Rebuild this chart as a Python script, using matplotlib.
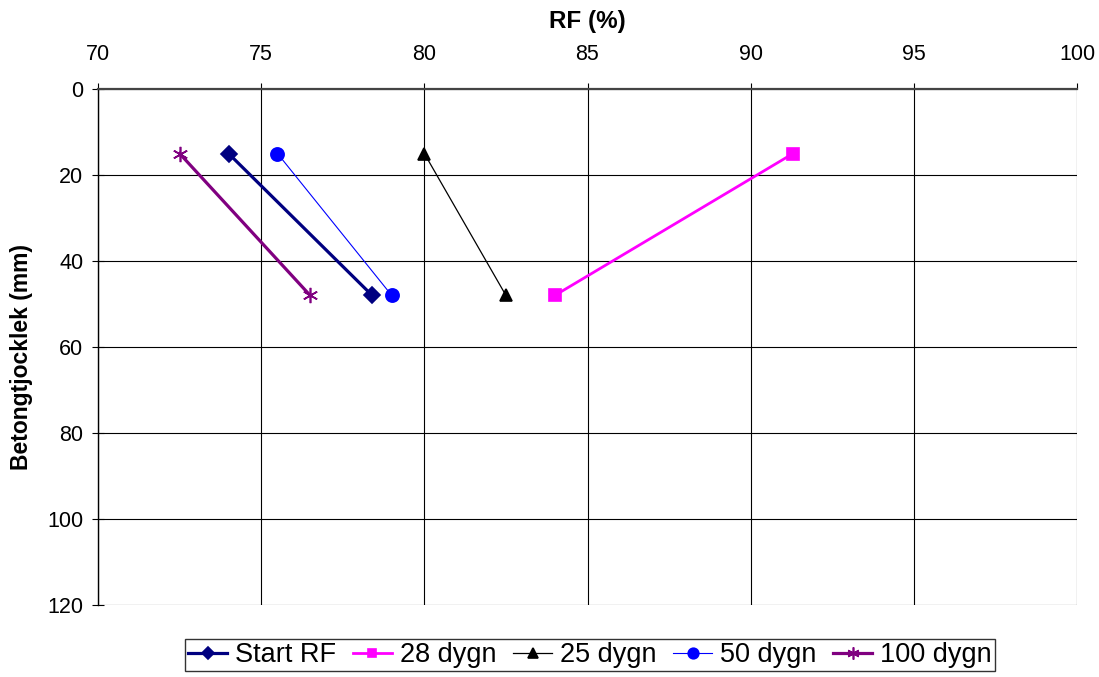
import matplotlib
matplotlib.use("Agg")
import matplotlib.pyplot as plt

plt.rcParams['font.family'] = ['Liberation Sans', 'DejaVu Sans']

depth = [15, 48]
start_rf = [74.0, 78.4]
d28 = [91.3, 84.0]
d25 = [80.0, 82.5]
d50 = [75.5, 79.0]
d100 = [72.5, 76.5]

series = [
    ("Start RF", start_rf, "#000080", "D", 2.3, 8),
    ("28 dygn", d28, "#FF00FF", "s", 2.0, 8),
    ("25 dygn", d25, "#000000", "^", 0.9, 8.5),
    ("50 dygn", d50, "#0000FF", "o", 0.8, 9.5),
    ("100 dygn", d100, "#800080", (6, 2, 0), 2.3, 11),
]

fig = plt.figure(figsize=(10.99, 6.77), dpi=100)
ax = fig.add_axes([98/1099, 1-605/677, (1077-98)/1099, (605-89)/677])

for name, xs, c, m, lw, ms in series:
    ax.plot(xs, depth, color=c, marker=m, lw=lw, ms=ms, label=name,
            markeredgecolor=c, markerfacecolor=c, mew=1.2)

ax.set_xlim(70, 100)
ax.set_ylim(120, 0)
ax.set_xticks(range(70, 101, 5))
ax.set_yticks(range(0, 121, 20))
ax.xaxis.tick_top()
ax.xaxis.set_label_position('top')
ax.grid(True, color='black', lw=0.8)
ax.set_axisbelow(True)
for s in ['right', 'bottom']:
    ax.spines[s].set_visible(False)
ax.spines['left'].set_linewidth(1.0)
ax.spines['top'].set_linewidth(1.6)
ax.spines['top'].set_color('#444444')
ax.tick_params(axis='x', labelsize=15.5, length=4, width=0.8, direction='out', pad=13)
ax.tick_params(axis='y', labelsize=15.5, length=9, width=0.8, direction='inout', pad=6)
ax.set_xlabel("RF (%)", fontsize=17.5, fontweight='bold', labelpad=12)
ax.set_ylabel("Betongtjocklek (mm)", fontsize=16.5, fontweight='bold')
ax.yaxis.set_label_coords(-0.066, 0.48)

leg = fig.legend(loc='center', bbox_to_anchor=(590/1099, 1-655/677), ncol=5,
                 fontsize=19.5, frameon=True, fancybox=False, edgecolor='black',
                 handlelength=1.45, handletextpad=0.3, columnspacing=0.6,
                 borderpad=0.1, borderaxespad=0, markerscale=0.8)
leg.get_frame().set_linewidth(1.0)

fig.savefig("out.png", dpi=100)
